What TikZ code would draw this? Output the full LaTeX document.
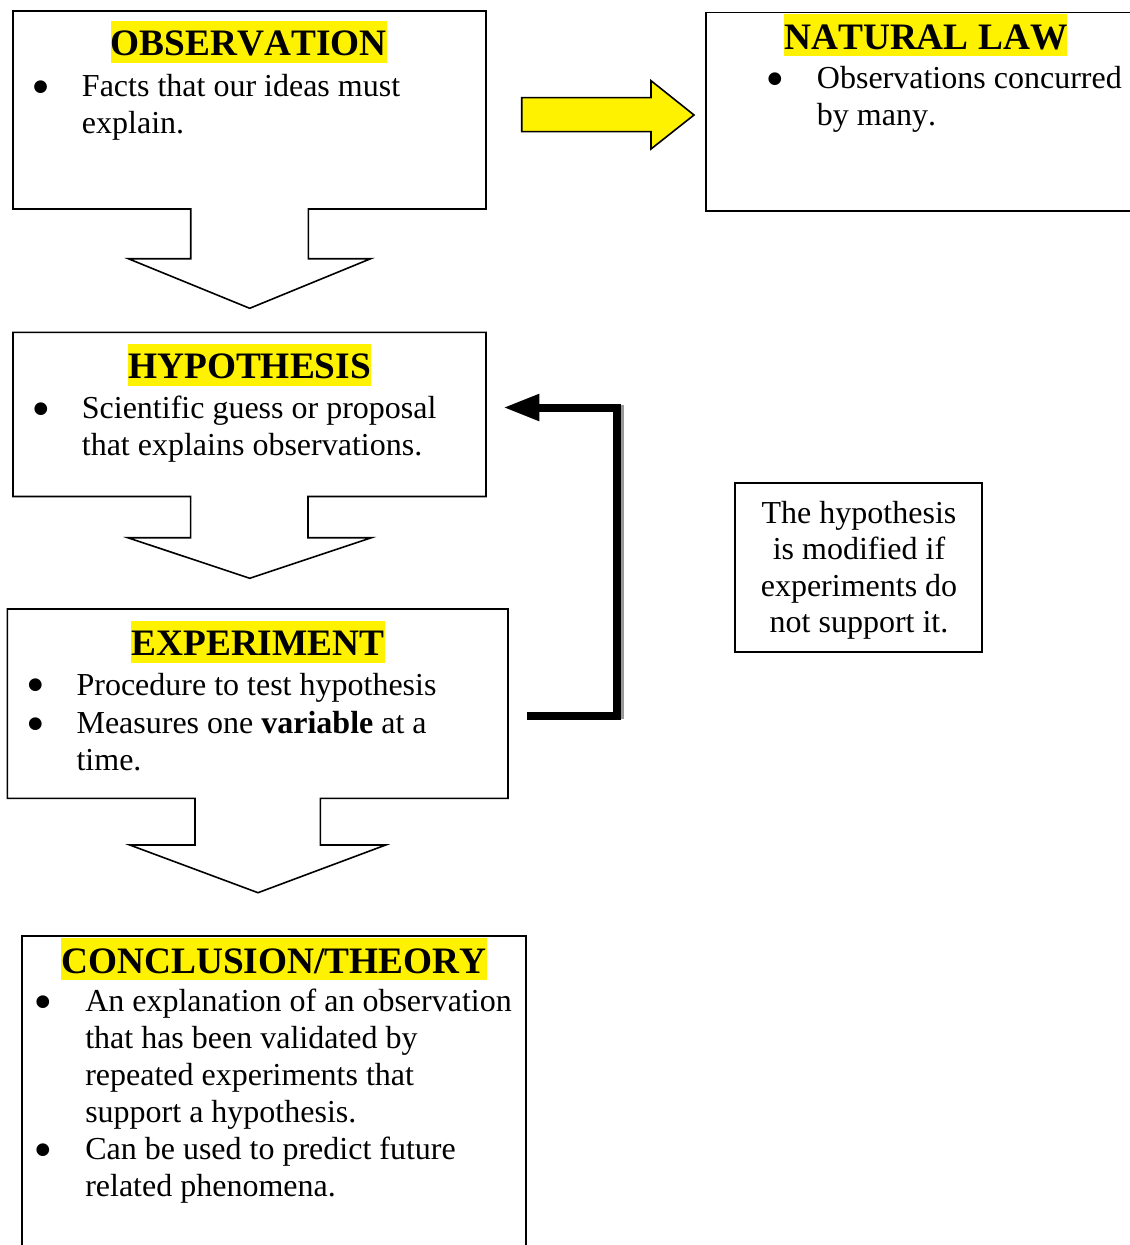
\documentclass[tikz,border=0pt]{standalone}
\usepackage{fontspec}
\setmainfont{Liberation Serif}[Kerning=Off]
\newfontfamily\bulletfont{DejaVu Sans}
\usetikzlibrary{arrows.meta}
\newcommand{\bigbullet}{{\bulletfont ●}}
\begin{document}
\begin{tikzpicture}[x=0.75pt,y=-0.75pt,
  outline/.style={draw=black,line width=1.2pt,line join=miter},
  yellowarrow/.style={draw=black,fill=yellow,line width=1.2pt,line join=miter},
  heading/.style={fill=yellow,inner sep=0pt,text height=26.25pt,text depth=5.25pt,anchor=base,font=\fontsize{28}{32}\selectfont\bfseries},
  bodytext/.style={anchor=base west,inner sep=0pt,text width=380pt,align=flush left,font=\fontsize{24}{27.75}\selectfont},
  bulletmark/.style={anchor=base,inner sep=0pt,font=\fontsize{12.5}{14}\selectfont,yshift=3.8pt},
  notetext/.style={anchor=base,inner sep=0pt,text width=180pt,align=flush center,font=\fontsize{24}{27.4}\selectfont},
  loopline/.style={line width=6pt,line join=miter,-{Triangle[length=27pt,width=18.75pt]}},
  loopshadow/.style={line width=6pt,draw=black!40}
]
\useasboundingbox (0,0) rectangle (1129,1245);
\fill[white] (0,0) rectangle (1129,1245);

% ---------- OBSERVATION ----------
\draw[outline] (13,11) -- (486,11) -- (486,209) -- (308.3,209) -- (308.3,258.7)
  -- (370.7,258.7) -- (249.7,308.3) -- (128.3,258.7) -- (190.7,258.7)
  -- (190.7,209) -- (13,209) -- cycle;
\node[heading] (obsh) at (248.8,56) {OBSERVATION};
\node[bulletmark] (obsb) at (40.7,96.7) {\bigbullet};
\node[bodytext] (obst) at (81.7,96.7) {Facts that our ideas must\\explain.};

% ---------- yellow arrow ----------
\draw[yellowarrow] (521.7,97.7) -- (651,97.7) -- (651,80.7) -- (694,115)
  -- (651,149) -- (651,131.7) -- (521.7,131.7) -- cycle;

% ---------- NATURAL LAW ----------
\draw[outline] (1140,12.7) -- (706,12.7) -- (706,210.7) -- (1140,210.7);
\node[heading] (lawh) at (925.8,49.5) {NATURAL LAW};
\node[bulletmark] (lawb) at (775,88.5) {\bigbullet};
\node[bodytext] (lawt) at (816.7,88.5) {Observations concurred\\by many.};

% ---------- HYPOTHESIS ----------
\draw[outline] (13,332.3) -- (486,332.3) -- (486,496.5) -- (308,496.5) -- (308,537.7)
  -- (371.4,537.7) -- (249.8,578.3) -- (127.8,537.7) -- (190.6,537.7)
  -- (190.6,496.5) -- (13,496.5) -- cycle;
\node[heading] (hyph) at (249.6,378.5) {HYPOTHESIS};
\node[bulletmark] (hypb) at (40.8,418.3) {\bigbullet};
\node[bodytext] (hypt) at (81.6,418.3) {Scientific guess or proposal\\that explains observations.};

% ---------- EXPERIMENT ----------
\draw[outline] (7.3,609) -- (508,609) -- (508,798.3) -- (320.4,798.3) -- (320.4,845)
  -- (385.7,845) -- (258,892.7) -- (129.8,845) -- (195,845)
  -- (195,798.3) -- (7.3,798.3) -- cycle;
\node[heading] (exph) at (258,655.5) {EXPERIMENT};
\node[bulletmark] (expb1) at (35.5,695) {\bigbullet};
\node[bodytext] (expt1) at (76.3,695) {Procedure to test hypothesis};
\node[bulletmark] (expb2) at (35.5,733.3) {\bigbullet};
\node[bodytext] (expt2) at (76.3,733.3) {Measures one \textbf{variable} at a\\time.};

% ---------- feedback loop ----------
\coordinate (loopstart) at (526.7,716);
\coordinate (loopcornerA) at (616.5,716);
\coordinate (loopcornerB) at (616.5,407.5);
\coordinate (loopend) at (503.3,407.5);
\draw[loopshadow] (619.5,404.5) -- (619.5,719);
\draw[loopline] (loopstart) -- (loopcornerA) -- (loopcornerB) -- (loopend);

% ---------- note ----------
\draw[outline] (735,482.7) rectangle (981.7,651.7);
\node[notetext] (note) at (859,523.3) {The hypothesis\\is modified if\\experiments do\\not support it.};

% ---------- CONCLUSION/THEORY ----------
\draw[outline] (22,1250) -- (22,936) -- (526,936) -- (526,1250);
\node[heading] (conh) at (274,973) {CONCLUSION/THEORY};
\node[bulletmark] (conb1) at (43,1011.7) {\bigbullet};
\node[bodytext] (cont1) at (85,1011.7) {An explanation of an observation\\that has been validated by\\repeated experiments that\\support a hypothesis.};
\node[bulletmark] (conb2) at (43,1159.3) {\bigbullet};
\node[bodytext] (cont2) at (85,1159.3) {Can be used to predict future\\related phenomena.};
\end{tikzpicture}
\end{document}
